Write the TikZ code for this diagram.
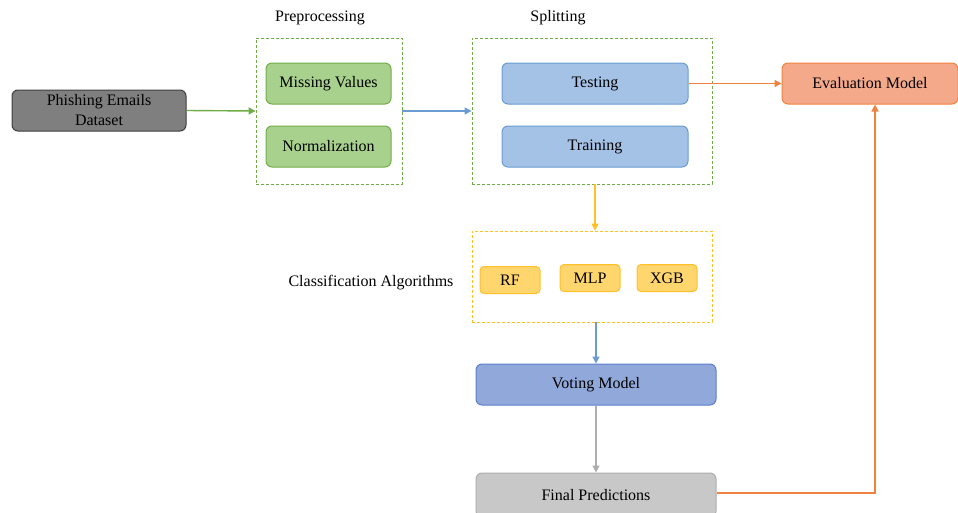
\documentclass[tikz,border=0pt]{standalone}
\usepackage{fontspec}
\setmainfont{Liberation Serif}
\usepackage{tikz}
\usetikzlibrary{arrows.meta,positioning}

\definecolor{grnfill}{HTML}{A9D18E}
\definecolor{grnline}{HTML}{70AD47}
\definecolor{blufill}{HTML}{A4C2E6}
\definecolor{bluline}{HTML}{6A9BD2}
\definecolor{orgfill}{HTML}{F4A98A}
\definecolor{orgline}{HTML}{F0813F}
\definecolor{ylwfill}{HTML}{FFD56E}
\definecolor{ylwline}{HTML}{FFC02A}
\definecolor{votfill}{HTML}{91A9DA}
\definecolor{votline}{HTML}{5A7ECB}
\definecolor{gryfill}{HTML}{C8C8C8}
\definecolor{gryline}{HTML}{ADADAD}
\definecolor{dsfill}{HTML}{7F7F7F}
\definecolor{dsline}{HTML}{3F3F3F}

\begin{document}
\begin{tikzpicture}[x=1pt, y=-1pt,
  box/.style={draw, rounded corners=6pt, line width=1pt, align=center,
              font=\fontsize{16}{20}\selectfont, inner sep=2pt},
  grpbox/.style={draw, dashed, dash pattern=on 3pt off 2pt, line width=0.9pt},
  lbl/.style={font=\fontsize{16}{18}\selectfont},
  arr/.style={-{Triangle[length=7pt, width=7pt]}, line width=1.4pt},
]
  \useasboundingbox (0,0) rectangle (958,512);

  %% ---- input ----
  \node[box, fill=dsfill, draw=dsline, minimum width=174pt, minimum height=41pt]
    (data) at (99,110.5) {Phishing Emails\\Dataset};

  %% ---- preprocessing ----
  \node[grpbox, draw=grnline, minimum width=146pt, minimum height=146pt]
    (prep) at (329,111) {};
  \node[lbl] (preplbl) at (320,18) {Preprocessing};
  \node[box, fill=grnfill, draw=grnline, minimum width=125pt, minimum height=41pt]
    (miss) at (328.5,83.5) {Missing Values};
  \node[box, fill=grnfill, draw=grnline, minimum width=125pt, minimum height=41pt]
    (norm) at (328.5,146.5) {Normalization};

  %% ---- splitting ----
  \node[grpbox, draw=grnline, minimum width=240pt, minimum height=146pt]
    (split) at (592,111) {};
  \node[lbl] (splitlbl) at (558,18) {Splitting};
  \node[box, fill=blufill, draw=bluline, minimum width=186pt, minimum height=41pt]
    (test) at (595,83.5) {Testing};
  \node[box, fill=blufill, draw=bluline, minimum width=186pt, minimum height=41pt]
    (train) at (595,146.5) {Training};

  %% ---- evaluation ----
  \node[box, fill=orgfill, draw=orgline, minimum width=176pt, minimum height=41pt]
    (eval) at (870,83.5) {Evaluation Model};

  %% ---- classification ----
  \node[grpbox, draw=ylwline, minimum width=240pt, minimum height=91pt]
    (clf) at (592,276.5) {};
  \node[lbl] (clflbl) at (371,283) {Classification Algorithms};
  \node[box, rounded corners=4pt, fill=ylwfill, draw=ylwline, minimum width=60pt, minimum height=27pt]
    (rf) at (510,280) {RF};
  \node[box, rounded corners=4pt, fill=ylwfill, draw=ylwline, minimum width=60pt, minimum height=27pt]
    (mlp) at (590,278) {MLP};
  \node[box, rounded corners=4pt, fill=ylwfill, draw=ylwline, minimum width=60pt, minimum height=27pt]
    (xgb) at (667,278) {XGB};

  %% ---- voting and output ----
  \node[box, fill=votfill, draw=votline, minimum width=240pt, minimum height=41pt]
    (vote) at (596,384.5) {Voting Model};
  \node[box, fill=gryfill, draw=gryline, minimum width=240pt, minimum height=44pt]
    (final) at (596,495) {Final Predictions};
  \coordinate (turn) at (875,493);

  %% ---- connectors ----
  \draw[arr, draw=grnline] (data.east) -- (prep.west);
  \draw[arr, draw=bluline] (prep.east) -- (split.west);
  \draw[arr, draw=orgline] (test.east) -- (eval.west);
  \draw[arr, draw=ylwline] (split.south -| test) -- (clf.north -| test);
  \draw[arr, draw=bluline] (clf.south -| vote) -- (vote.north);
  \draw[arr, draw=gryline] (vote.south) -- (final.north);
  \draw[arr, draw=orgline] (final.east |- turn) -- (turn) -- (eval.south -| turn);
\end{tikzpicture}
\end{document}
